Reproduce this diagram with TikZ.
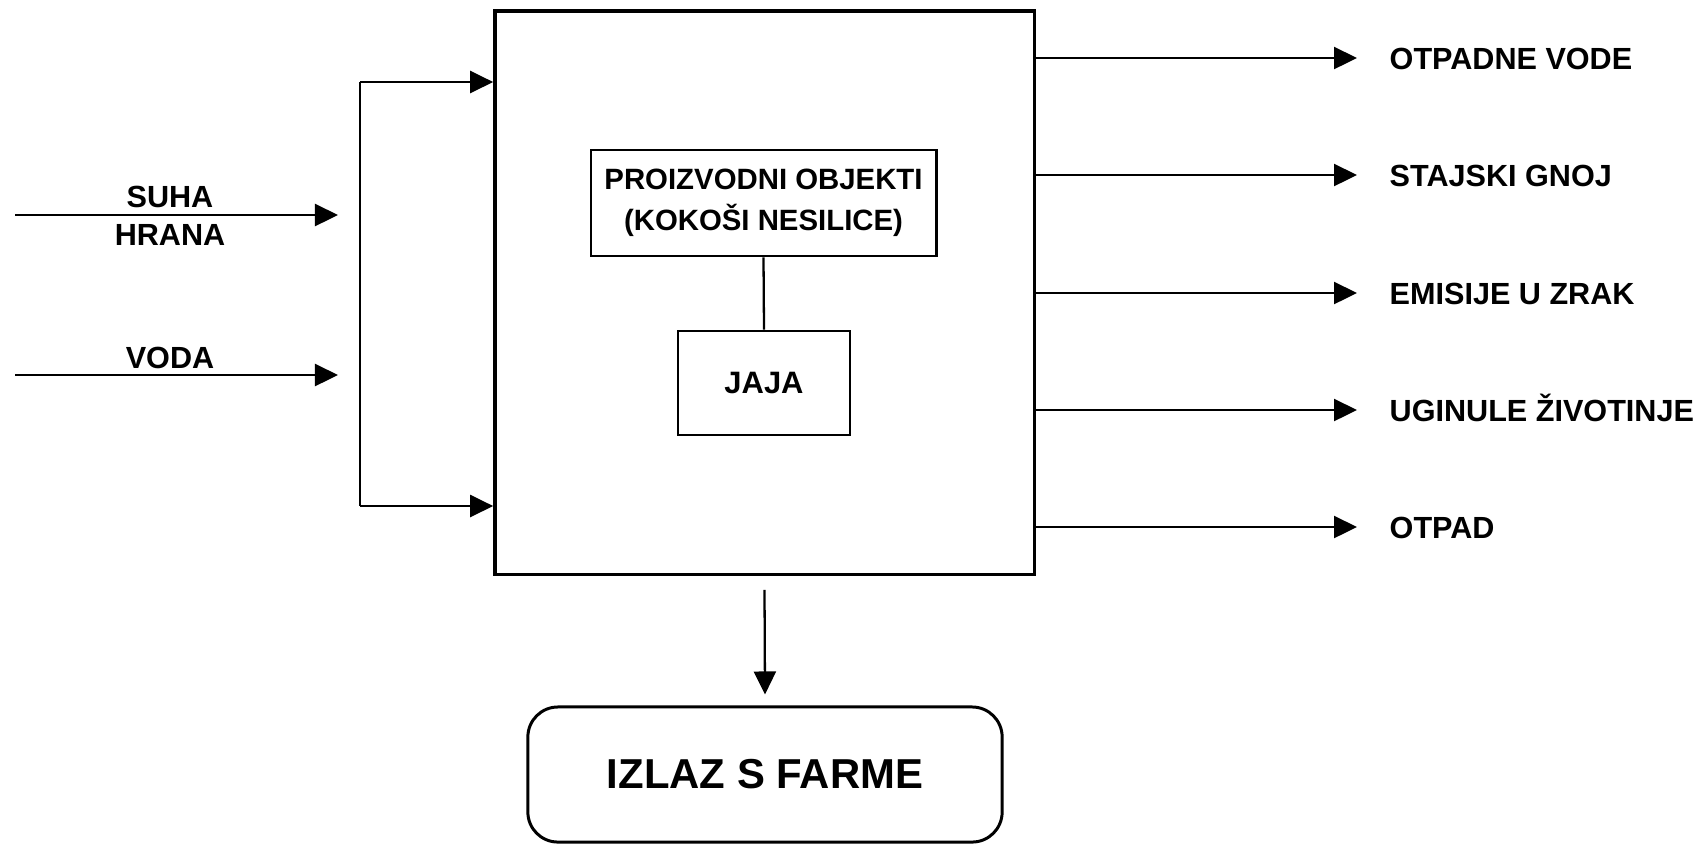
\documentclass[tikz,border=0pt]{standalone}
\usepackage{fontspec}
\setmainfont{Liberation Sans}
\usetikzlibrary{arrows.meta}
\begin{document}
\begin{tikzpicture}[x=0.01cm,y=-0.01cm,
  arr/.style={line width=0.65pt, -{Triangle[length=0.23cm,width=0.22cm]}},
  ln/.style={line width=0.65pt},
  lbl/.style={font=\bfseries\fontsize{8.7}{10.8}\selectfont, inner sep=0pt},
  bigbox/.style={draw, line width=0.95pt, inner sep=0pt},
  smallbox/.style={draw, line width=0.8pt, align=center, inner sep=0pt,
    font=\bfseries\fontsize{8.35}{11.7}\selectfont},
  endbox/.style={draw, line width=0.85pt, rounded corners=0.3cm, inner sep=0pt,
    font=\bfseries\fontsize{11.9}{14}\selectfont}
]
\useasboundingbox (0,0) rectangle (1706,844);

% main box
\node[bigbox, minimum width=5.39cm, minimum height=5.63cm] (main) at (764.5,292.5) {};
\node[smallbox, minimum width=3.45cm, minimum height=1.06cm] (prod) at (763.5,203) {PROIZVODNI OBJEKTI\\(KOKOŠI NESILICE)};
\node[smallbox, minimum width=1.72cm, minimum height=1.04cm, font=\bfseries\fontsize{8.8}{11}\selectfont] (jaja) at (764,383) {JAJA};
\draw[ln] (prod.south) -- (jaja.north);

% inputs
\coordinate (suhaS) at (15,215);
\coordinate (suhaE) at (338,215);
\coordinate (vodaS) at (15,375);
\coordinate (vodaE) at (338,375);
\draw[arr] (suhaS) -- (suhaE);
\draw[arr] (vodaS) -- (vodaE);
\node[lbl] (suha) at (170,197) {SUHA};
\node[lbl] (hrana) at (170,235) {HRANA};
\node[lbl] (voda) at (170,358) {VODA};

\coordinate (jt) at (360,82);
\coordinate (jb) at (360,506);
\draw[ln] (jt) -- (jb);
\draw[arr] (jt) -- (main.west |- jt);
\draw[arr] (jb) -- (main.west |- jb);

% outputs
\foreach \y/\name/\txt in {58/o1/OTPADNE VODE, 175/o2/STAJSKI GNOJ, 293/o3/EMISIJE U ZRAK, 410/o4/UGINULE ŽIVOTINJE, 527/o5/OTPAD}{
  \coordinate (t\name) at (1357,\y);
  \node[lbl, anchor=base west] (\name) at (1389,\y+11) {\txt};
  \draw[arr] (main.east |- t\name) -- (t\name);
}

% exit
\node[endbox, minimum width=4.74cm, minimum height=1.35cm] (izlaz) at (765,774.5) {IZLAZ S FARME};
\draw[arr] ([yshift=-0.14cm]main.south) -- ([yshift=0.11cm]izlaz.north);
\end{tikzpicture}
\end{document}
